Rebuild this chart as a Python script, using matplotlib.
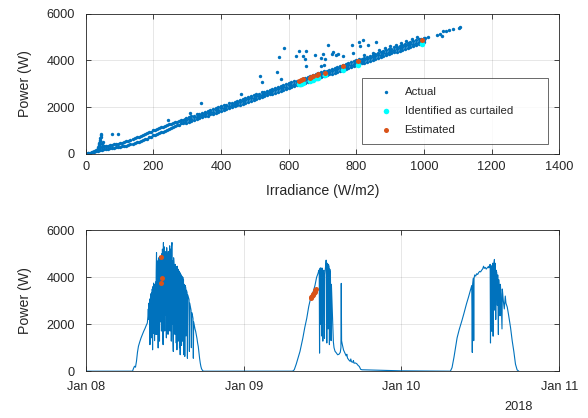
import matplotlib
matplotlib.use('Agg')
import matplotlib.pyplot as plt
import matplotlib.dates as mdates
import numpy as np
import pandas as pd

plt.rcParams['font.family'] = ['Liberation Sans', 'DejaVu Sans']

BLUE = '#0072BD'
ORANGE = '#D95319'
CYAN = '#00FFFF'
TXT = '#262626'

# ---- top panel: power vs irradiance ----
# main band (irradiance 296..1000), three rows read across its width
band_irr = [296, 304, 312, 320, 328, 336, 344, 352, 360, 368, 376, 384, 392, 400, 408, 416, 424, 432,
            440, 448, 456, 464, 472, 480, 488, 496, 504, 512, 520, 528, 536, 544, 552, 560, 568, 576,
            584, 592, 600, 608, 616, 624, 632, 640, 648, 656, 664, 672, 680, 688, 696, 704, 712, 720,
            728, 736, 744, 752, 760, 768, 776, 784, 792, 800, 808, 816, 824, 832, 840, 848, 856, 864,
            872, 880, 888, 896, 904, 912, 920, 928, 936, 944, 952, 960, 968, 976, 984, 992, 1000]
band_hi = [1530, 1560, 1620, 1640, 1690, 1720, 1760, 1810, 1840, 1870, 1930, 1950, 2010, 2030, 2080,
           2110, 2160, 2190, 2240, 2260, 2320, 2350, 2390, 2430, 2460, 2510, 2550, 2580, 2630, 2660,
           2710, 2740, 2790, 2820, 2870, 2900, 2940, 2980, 3020, 3060, 3100, 3130, 3180, 3210, 3260,
           3290, 3340, 3370, 3410, 3450, 3490, 3530, 3570, 3610, 3640, 3690, 3720, 3770, 3800, 3850,
           3880, 3920, 3960, 4000, 4050, 4080, 4120, 4160, 4200, 4240, 4280, 4310, 4360, 4400, 4430,
           4480, 4510, 4560, 4590, 4640, 4670, 4720, 4750, 4790, 4830, 4860, 4900, 4940, 4980]
band_mid = [1440, 1480, 1500, 1560, 1580, 1640, 1650, 1720, 1740, 1800, 1810, 1870, 1890, 1950, 1970,
            2030, 2050, 2110, 2130, 2180, 2200, 2260, 2290, 2340, 2380, 2400, 2460, 2490, 2520, 2580,
            2600, 2650, 2690, 2730, 2760, 2810, 2850, 2870, 2930, 2950, 3010, 3040, 3070, 3130, 3150,
            3200, 3230, 3280, 3320, 3350, 3400, 3420, 3480, 3500, 3560, 3580, 3640, 3660, 3710, 3740,
            3790, 3820, 3870, 3890, 3950, 3970, 4030, 4050, 4100, 4130, 4180, 4220, 4250, 4300, 4340,
            4360, 4420, 4440, 4500, 4520, 4570, 4600, 4650, 4690, 4720, 4770, 4800, 4850, 4870]
band_lo = [1330, 1370, 1400, 1450, 1480, 1520, 1570, 1600, 1640, 1690, 1720, 1760, 1800, 1840, 1880,
           1910, 1960, 1990, 2030, 2080, 2110, 2150, 2190, 2230, 2270, 2310, 2340, 2390, 2420, 2460,
           2500, 2550, 2580, 2620, 2660, 2700, 2740, 2780, 2810, 2860, 2890, 2940, 2970, 3010, 3050,
           3090, 3130, 3170, 3210, 3250, 3290, 3330, 3360, 3400, 3440, 3480, 3520, 3560, 3600, 3640,
           3680, 3720, 3760, 3800, 3830, 3880, 3910, 3950, 3990, 4030, 4070, 4110, 4150, 4190, 4230,
           4270, 4300, 4350, 4380, 4420, 4460, 4500, 4540, 4580, 4620, 4660, 4700, 4740, 4780]

# low-irradiance part: two branches forming a lens
branch_irr = [0, 6, 12, 18, 24, 30, 36, 42, 48, 54, 60, 66, 72, 78, 84, 90, 96, 102, 108, 114, 120, 126,
              132, 138, 144, 150, 156, 162, 168, 174, 180, 186, 192, 198, 204, 210, 216, 222, 228, 234,
              240, 246, 252, 258, 264, 270, 276, 282, 288, 294]
branch_up = [0, 25, 45, 75, 110, 150, 205, 285, 300, 320, 330, 355, 365, 390, 405, 420, 430, 455, 470,
             510, 530, 570, 590, 635, 660, 705, 730, 780, 805, 855, 885, 930, 955, 1005, 1025, 1070,
             1095, 1135, 1160, 1205, 1225, 1265, 1285, 1325, 1345, 1380, 1395, 1435, 1450, 1485]
branch_lo = [0, 15, 30, 60, 75, 110, 130, 160, 170, 200, 205, 225, 230, 250, 255, 280, 285, 310, 315,
             345, 355, 390, 400, 435, 455, 495, 515, 555, 580, 625, 655, 705, 740, 795, 820, 860, 885,
             925, 945, 985, 1025, 1070, 1095, 1145, 1175, 1225, 1255, 1305, 1335, 1385]

spike_irr = [36, 37, 38, 39, 40, 41, 42, 43, 44, 45, 46, 47, 49, 52]
spike_pow = [250, 300, 360, 420, 480, 540, 600, 660, 720, 790, 830, 400, 470, 520]

out_irr = [78, 96, 242, 308, 340, 459, 514, 520, 566, 571, 577, 585, 621, 629, 643, 648, 651, 651,
           678, 695, 695, 702, 705, 707, 717, 727, 732, 740, 747, 762, 786, 789, 809, 811, 821, 836,
           858, 824, 848, 868, 884, 900, 916, 932, 948, 964, 980, 1004, 1013, 1040, 1048, 1053, 1056,
           1066, 1073, 1087, 1103, 1108]
out_pow = [850, 870, 1440, 1770, 2170, 2570, 3320, 3090, 3490, 4170, 3200, 4520, 4180, 4420, 4200,
           4060, 4420, 3780, 4250, 4100, 3780, 4280, 3800, 4070, 4650, 4280, 4350, 4250, 4280, 4180,
           4650, 4320, 4780, 4630, 4880, 4680, 4800, 4250, 4330, 4450, 4520, 4600, 4680, 4760, 4830,
           4920, 5000, 4960, 5000, 5100, 5150, 5060, 5250, 5280, 5290, 5350, 5380, 5420]

# curtailment detection and estimates
est_time = ['2018-01-08 11:22', '2018-01-08 11:36', '2018-01-08 11:30',
            '2018-01-09 10:12', '2018-01-09 10:18', '2018-01-09 10:24', '2018-01-09 10:30',
            '2018-01-09 10:36', '2018-01-09 10:42', '2018-01-09 10:48', '2018-01-09 10:52',
            '2018-01-09 10:56']
est_irr = [995, 805, 760, 631, 636, 641, 663, 667, 672, 684, 688, 707]
est_pow = [4870, 3990, 3770, 3110, 3150, 3200, 3250, 3290, 3340, 3390, 3440, 3480]
curt_pow = [4700, 3800, 3600, 2990, 3010, 3040, 3130, 3150, 3170, 3240, 3260, 3360]

# ---- bottom panel: power time series (hours of each day) ----
day1_h = [0, 7.1, 7.25, 7.4, 7.55, 7.7, 7.85, 8.0, 8.2, 8.4, 8.6, 8.8, 9.0, 9.2, 9.35, 9.45, 9.5, 9.55,
          9.6, 9.65, 9.7, 9.75, 9.8, 9.85, 9.9, 9.95, 10.0, 10.05, 10.1, 10.15, 10.2, 10.25, 10.3, 10.35,
          10.4, 10.45, 10.5, 10.55, 10.6, 10.65, 10.7, 10.75, 10.8, 10.85, 10.9, 10.95, 11.0, 11.05, 11.1,
          11.15, 11.2, 11.25, 11.3, 11.35, 11.4, 11.45, 11.5, 11.55, 11.6, 11.65, 11.7, 11.75, 11.8,
          11.85, 11.9, 11.95, 12.0, 12.05, 12.1, 12.15, 12.2, 12.25, 12.3, 12.35, 12.4, 12.45, 12.5,
          12.55, 12.6, 12.65, 12.7, 12.75, 12.8, 12.85, 12.9, 12.95, 13.0, 13.05, 13.1, 13.15, 13.2,
          13.25, 13.3, 13.35, 13.4, 13.45, 13.5, 13.55, 13.6, 13.65, 13.7, 13.75, 13.8, 13.85, 13.9,
          13.95, 14.0, 14.05, 14.1, 14.15, 14.2, 14.25, 14.3, 14.35, 14.4, 14.45, 14.5, 14.55, 14.6,
          14.7, 14.75, 14.8, 14.85, 14.9, 15.0, 15.05, 15.1, 15.2, 15.25, 15.3, 15.4, 15.45, 15.5, 15.6,
          15.7, 15.75, 15.8, 15.9, 16.0, 16.05, 16.1, 16.2, 16.3, 16.35, 16.4, 16.5, 16.6, 16.7, 16.8,
          16.9, 17.0, 17.1, 17.2, 17.3, 17.4, 17.5, 17.6, 17.75, 17.9]
day1_p = [0, 0, 120, 210, 170, 420, 800, 1060, 1250, 1420, 1560, 1700, 1820, 1960, 2050, 2350, 2650,
          2200, 2900, 2300, 3050, 1130, 3100, 2400, 3300, 1420, 3350, 2600, 3500, 910, 3600, 2900, 3750,
          1600, 3650, 1300, 3700, 2000, 3800, 1570, 4200, 5050, 1570, 4600, 2200, 4700, 990, 4800, 2500,
          4850, 1280, 4900, 3000, 4750, 2100, 4900, 1710, 5000, 2600, 5200, 1900, 1130, 5480, 2200, 5300,
          3000, 1710, 5100, 2400, 5000, 3300, 1420, 5260, 2000, 5000, 2800, 1570, 5100, 2300, 4800, 1900,
          5340, 1710, 5200, 2600, 4900, 1280, 5300, 5480, 2000, 4700, 1500, 840, 4830, 4600, 2100, 4500,
          1570, 4550, 3000, 4400, 1200, 4450, 910, 4470, 2300, 4350, 1280, 4300, 2500, 4250, 1000, 4200,
          700, 4150, 1800, 4100, 1100, 4050, 1280, 4000, 2400, 3900, 700, 3700, 630, 3650, 3550, 1500,
          3450, 3350, 550, 3250, 3150, 3050, 840, 2900, 2750, 2600, 1000, 2500, 2400, 2250, 550, 2100,
          1950, 1800, 1700, 1550, 1400, 1200, 1050, 800, 550, 350, 200, 100, 30, 0]

day2_h = [0, 7.45, 7.7, 8.0, 8.3, 8.57, 8.8, 9.0, 9.3, 9.6, 9.9, 10.1, 10.4, 10.6, 10.85, 11.1, 11.3,
          11.45, 11.5, 11.55, 11.6, 11.65, 11.7, 11.75, 11.8, 11.85, 11.9, 11.95, 12.05, 12.1, 12.2, 12.3,
          12.35, 12.45, 12.55, 12.6, 12.65, 12.7, 12.8, 12.85, 12.9, 13.0, 13.05, 13.1, 13.2, 13.3, 13.35,
          13.45, 13.55, 13.65, 13.75, 13.9, 14.1, 14.3, 14.5, 14.7, 14.8, 14.85, 14.9, 15.0, 15.2, 15.4,
          15.6, 15.7, 15.8, 16.0, 16.2, 16.3, 16.4, 16.6, 16.7, 16.8, 17.0, 17.2, 17.4, 17.6, 17.8, 18.0,
          24.0]
day2_p = [0, 0, 60, 300, 580, 840, 1150, 1400, 1860, 2250, 2750, 3000, 3250, 3400, 3650, 4000, 4150,
          4300, 4300, 770, 4350, 4390, 2000, 4400, 4350, 1500, 4300, 4390, 1280, 4200, 4300, 1400, 4100,
          4400, 4730, 4450, 1200, 4600, 4500, 1800, 4550, 4450, 1130, 4350, 4200, 1300, 3700, 2870, 2000,
          1250, 1000, 850, 780, 700, 720, 800, 1000, 3740, 1300, 1150, 900, 780, 650, 720, 560, 480, 420,
          520, 400, 380, 450, 340, 350, 320, 250, 200, 80, 60, 15]

day3_h = [0, 7.45, 7.7, 8.0, 8.47, 8.8, 9.2, 9.5, 9.9, 10.2, 10.5, 10.7, 10.78, 10.85, 10.95, 11.0,
          11.05, 11.15, 11.3, 11.45, 11.6, 11.75, 11.9, 12.05, 12.2, 12.35, 12.5, 12.6, 12.75, 12.9,
          13.05, 13.2, 13.3, 13.4, 13.5, 13.55, 13.6, 13.7, 13.75, 13.8, 13.9, 13.95, 14.0, 14.1, 14.15,
          14.2, 14.25, 14.3, 14.35, 14.4, 14.5, 14.6, 14.65, 14.75, 14.8, 14.9, 15.0, 15.05, 15.15, 15.3,
          15.35, 15.5, 15.65, 15.8, 15.9, 16.1, 16.3, 16.6, 16.85, 17.1, 17.35, 17.6, 17.85]
day3_p = [15, 0, 150, 600, 1420, 1780, 2150, 2450, 2870, 3150, 3450, 3650, 800, 3700, 3960, 1300, 3950,
          4100, 4050, 4150, 4120, 4200, 4250, 4230, 4300, 4350, 4470, 4380, 4420, 4350, 4400, 4450, 4400,
          4500, 4550, 1200, 4500, 4400, 1700, 4450, 4600, 1490, 4500, 4650, 4760, 2600, 4600, 4400, 2200,
          4300, 4200, 2800, 4100, 1560, 3900, 3380, 2360, 3700, 3300, 1800, 3500, 3000, 2650, 3200, 2900,
          2730, 2400, 1860, 1300, 840, 300, 55, 0]


def style_axes(ax, xpad, ypad):
    ax.set_facecolor('white')
    for s in ax.spines.values():
        s.set_color(TXT)
        s.set_linewidth(0.6)
    ax.tick_params(direction='in', length=3.4, width=0.6, color=TXT, labelcolor=TXT,
                   labelsize=9.2, top=True, right=True)
    ax.tick_params(axis='x', pad=xpad)
    ax.tick_params(axis='y', pad=ypad)
    ax.grid(True, color=TXT, alpha=0.13, linewidth=0.6)
    ax.set_axisbelow(True)


fig = plt.figure(figsize=(5.88, 4.18), dpi=100)
ax1 = fig.add_axes([0.146, 0.632, 0.805, 0.335])
ax2 = fig.add_axes([0.146, 0.112, 0.805, 0.337])

# top scatter
dot = dict(s=6, marker='o', linewidths=0, color=BLUE)
h_act = ax1.scatter(band_irr, band_hi, label='Actual', **dot)
ax1.scatter(band_irr, band_mid, **dot)
ax1.scatter(band_irr, band_lo, **dot)
ax1.scatter(branch_irr, branch_up, **dot)
ax1.scatter(branch_irr, branch_lo, **dot)
ax1.scatter(spike_irr, spike_pow, **dot)
ax1.scatter(out_irr, out_pow, **dot)
h_cur = ax1.scatter(est_irr, curt_pow, s=16, marker='o', linewidths=0, color=CYAN,
                    label='Identified as curtailed')
h_est = ax1.scatter(est_irr, est_pow, s=13, marker='o', linewidths=0, color=ORANGE,
                    label='Estimated')

ax1.set_xlim(0, 1400)
ax1.set_ylim(0, 6000)
ax1.set_xticks(range(0, 1401, 200))
ax1.set_yticks([0, 2000, 4000, 6000])
style_axes(ax1, 5, 8)
ax1.set_xlabel('Irradiance (W/m2)', fontsize=10.2, color=TXT, labelpad=8)
ax1.set_ylabel('Power (W)', fontsize=10.2, color=TXT, labelpad=10)
leg = ax1.legend(handles=[h_act, h_cur, h_est], loc='lower left',
                 bbox_to_anchor=(0.583, 0.071, 0.394, 0.453), mode='expand',
                 fontsize=8.2, frameon=True, fancybox=False, borderpad=0.8,
                 labelspacing=0.78, handlelength=2.6, handletextpad=0.35, borderaxespad=0)
leg.get_frame().set_edgecolor(TXT)
leg.get_frame().set_linewidth(0.6)
for t in leg.get_texts():
    t.set_color(TXT)

# bottom time series
base = pd.Timestamp('2018-01-08')
t_all, p_all = [], []
for d, (hh, pp) in enumerate([(day1_h, day1_p), (day2_h, day2_p), (day3_h, day3_p)]):
    t_all.append(base + pd.Timedelta(days=d) + pd.to_timedelta(np.array(hh), unit='h'))
    p_all.extend(pp)
t_all = np.concatenate([np.array(t, dtype='datetime64[ns]') for t in t_all])
ax2.plot(t_all, p_all, color=BLUE, linewidth=0.8)
ax2.scatter(pd.to_datetime(est_time), est_pow, s=13, marker='o', linewidths=0, color=ORANGE, zorder=3)

ax2.set_xlim(pd.Timestamp('2018-01-08'), pd.Timestamp('2018-01-11'))
ax2.set_ylim(0, 6000)
ax2.set_yticks([0, 2000, 4000, 6000])
ax2.xaxis.set_major_locator(mdates.DayLocator())
ax2.xaxis.set_major_formatter(mdates.DateFormatter('%b %d'))
style_axes(ax2, 7, 8)
ax2.set_ylabel('Power (W)', fontsize=10.2, color=TXT, labelpad=10)
fig.text(519 / 588, 1 - 407 / 418, '2018', ha='center', va='center', fontsize=9.2, color=TXT)

fig.savefig('out.png', dpi=100)
